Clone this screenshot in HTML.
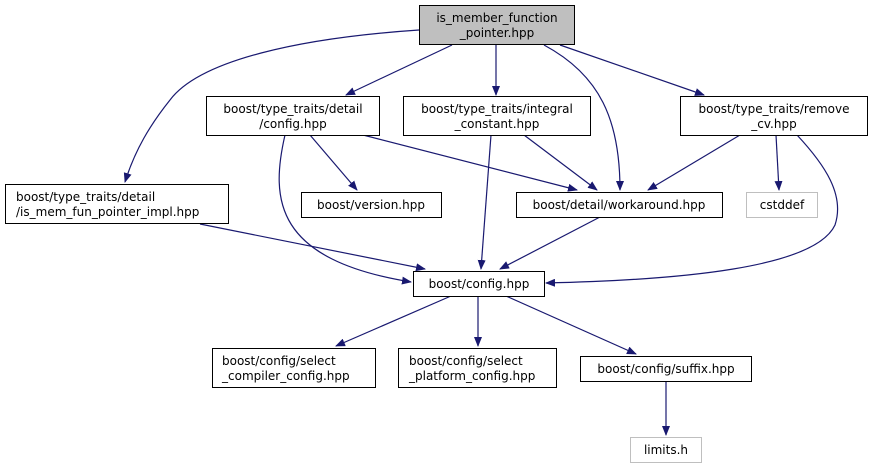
<!DOCTYPE html>
<html><head><meta charset="utf-8"><style>
html,body{margin:0;padding:0;background:#fff;}
svg{display:block}
text{font-family:"DejaVu Sans","Liberation Sans",sans-serif;font-size:12px;fill:#000;}
</style></head><body>
<svg width="873" height="469" viewBox="0 0 873 469" xmlns="http://www.w3.org/2000/svg">
<defs><marker id="a" markerWidth="10" markerHeight="8" refX="9" refY="4" orient="auto" markerUnits="userSpaceOnUse"><path d="M0,0 L10,4 L0,8 Z" fill="#191970"/></marker></defs>
<g fill="none" stroke="#191970" stroke-width="1.2" marker-end="url(#a)">
<path d="M419,30 C300,38 200,60 170,100 C150,125 135,150 125,182"/>
<path d="M452,45 L346,95"/>
<path d="M496,45 L496,95"/>
<path d="M544,45 C600,75 620,120 620,190"/>
<path d="M560,45 L704,95"/>
<path d="M310,135 L357,190"/>
<path d="M363,135 L577,190"/>
<path d="M285,135 C270,200 275,260 411,282"/>
<path d="M524,135 L597,190"/>
<path d="M491,135 L481,269"/>
<path d="M740,135 L648,190"/>
<path d="M776,135 L779,190"/>
<path d="M797,135 C825,165 845,195 835,225 C815,268 680,280 546,283"/>
<path d="M200,224 L425,269"/>
<path d="M600,217 L500,269"/>
<path d="M451,296 L336,346"/>
<path d="M478,296 L478,346"/>
<path d="M506,296 L636,354"/>
<path d="M666,381 L666,435"/>
</g>
<g stroke="#000" stroke-width="1" fill="#fff">
<rect x="419.5" y="5.5" width="155" height="39" fill="#bfbfbf"/>
<rect x="206.5" y="96.5" width="173" height="39"/>
<rect x="403.5" y="96.5" width="187" height="39"/>
<rect x="680.5" y="96.5" width="187" height="39"/>
<rect x="5.5" y="184.5" width="223" height="39"/>
<rect x="301.5" y="192.5" width="140" height="25"/>
<rect x="516.5" y="192.5" width="206" height="25"/>
<rect x="746.5" y="192.5" width="71" height="25" stroke="#bfbfbf"/>
<rect x="413.5" y="271.5" width="131" height="25"/>
<rect x="212.5" y="348.5" width="163" height="39"/>
<rect x="398.5" y="348.5" width="158" height="39"/>
<rect x="580.5" y="356.5" width="171" height="25"/>
<rect x="630.5" y="437.5" width="71" height="25" stroke="#bfbfbf"/>
</g>
<g text-anchor="middle">
<text x="497" y="22">is_member_function</text><text x="497" y="37">_pointer.hpp</text>
<text x="293" y="113">boost/type_traits/detail</text><text x="293" y="128">/config.hpp</text>
<text x="497" y="113">boost/type_traits/integral</text><text x="497" y="128">_constant.hpp</text>
<text x="774" y="113">boost/type_traits/remove</text><text x="774" y="128">_cv.hpp</text>
<text x="371" y="209">boost/version.hpp</text>
<text x="619" y="209">boost/detail/workaround.hpp</text>
<text x="782" y="209">cstddef</text>
<text x="479" y="288">boost/config.hpp</text>
<text x="666" y="373">boost/config/suffix.hpp</text>
<text x="666" y="454">limits.h</text>
</g>
<text x="16" y="201">boost/type_traits/detail</text><text x="16" y="216">/is_mem_fun_pointer_impl.hpp</text>
<text x="222" y="365">boost/config/select</text><text x="222" y="380">_compiler_config.hpp</text>
<text x="409" y="365">boost/config/select</text><text x="409" y="380">_platform_config.hpp</text>
</svg>
</body></html>
